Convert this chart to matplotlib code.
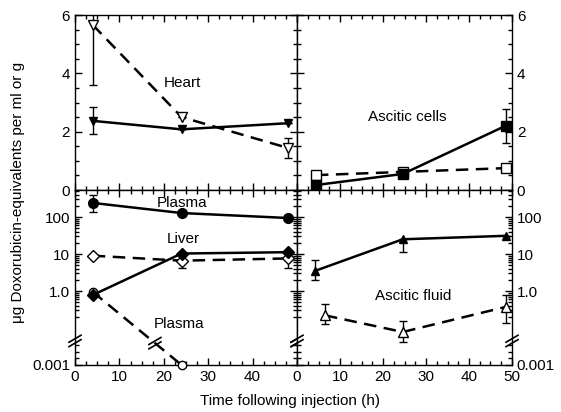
import numpy as np
import matplotlib
matplotlib.use('Agg')
from matplotlib import pyplot as plt
from matplotlib import transforms as mtransforms
from matplotlib.ticker import FixedLocator, FixedFormatter, MultipleLocator

plt.rc('font', family=['Liberation Sans', 'DejaVu Sans'])
plt.rc('font', size=11)

# ---- data (hours, ug doxorubicin-equivalents) ----
heart_t = [4, 24, 48]
heart_open = [5.66, 2.5, 1.44]
heart_open_err = [2.05, 0.0, 0.33]
heart_fill = [2.37, 2.08, 2.29]
heart_fill_err = [0.46, 0.0, 0.0]

cells_t = [4.4, 24.6, 48.5]
cells_open = [0.51, 0.62, 0.75]
cells_fill = [0.17, 0.55, 2.2]
cells_fill_err = [0.0, 0.0, 0.58]

plasma_t = [4, 24, 48]
plasma_fill = [240, 128, 94]
plasma_fill_lo = [104, 0, 0]
plasma_fill_hi = [160, 0, 0]
plasma_open_t = [4, 24]
plasma_open = [0.95, 0.001]

liver_t = [4, 24, 48]
liver_fill = [0.78, 10.3, 11.2]
liver_open = [9.0, 6.6, 7.6]
liver_open_lo = [0, 2.4, 3.4]
liver_open_hi = [0, 0, 0]

fluid_t = [4.2, 24.6, 48.5]
fluid_fill = [3.5, 25.0, 31.0]
fluid_fill_lo = [1.5, 13.5, 0]
fluid_fill_hi = [3.4, 0, 0]
fluid_open_t = [6.5, 24.6, 48.5]
fluid_open = [0.22, 0.078, 0.37]
fluid_open_lo = [0.09, 0.038, 0.23]
fluid_open_hi = [0.23, 0.077, 0.41]

log_ticks = [0.001, 1.0, 10, 100]
log_labels = ['0.001', '1.0', '10', '100']

# ---- broken log scale for the lower panels ----
B = -1.35   # break position (log units)
K = 0.394   # compression below the break


def fwd(v):
    lv = np.log10(np.clip(v, 1e-12, None))
    return np.where(lv >= B, lv, B + (lv - B) * K)


def inv(y):
    return np.where(y >= B, 10.0 ** y, 10.0 ** (B + (y - B) / K))


fig = plt.figure(figsize=(5.61, 4.12), dpi=100)
W, H = 561.0, 412.0
axTL = fig.add_axes([75 / W, 1 - 190 / H, 222 / W, 175 / H])
axTR = fig.add_axes([297 / W, 1 - 190 / H, 215 / W, 175 / H])
axBL = fig.add_axes([75 / W, 1 - 365 / H, 222 / W, 175 / H])
axBR = fig.add_axes([297 / W, 1 - 365 / H, 215 / W, 175 / H])

dash = (0, (5, 3))
lw = 1.8
ms = 6
ebk = dict(elinewidth=1, capsize=3, capthick=1, ecolor='black')

for ax in (axTL, axTR, axBL, axBR):
    ax.set_xlim(0, 50)
    ax.xaxis.set_major_locator(MultipleLocator(10))
    ax.xaxis.set_minor_locator(MultipleLocator(2.5))
    ax.tick_params(which='both', direction='in', top=True, bottom=True,
                   left=True, right=True, labelsize=11, width=1)
    ax.tick_params(which='major', length=5)
    ax.tick_params(which='minor', length=3)
    for s in ax.spines.values():
        s.set_linewidth(1)

# top panels, linear
for ax in (axTL, axTR):
    ax.set_ylim(0, 6)
    ax.yaxis.set_major_locator(MultipleLocator(2))
    ax.yaxis.set_minor_locator(MultipleLocator(0.5))
    ax.tick_params(labelbottom=False)
axTL.tick_params(labelleft=True, labelright=False)
axTR.tick_params(labelleft=False, labelright=True)

# bottom panels, broken log
minor_vals = [m * 10.0 ** d for d in range(-1, 3) for m in range(2, 10)]
minor_vals += [0.023, 0.0077, 0.003]
for ax in (axBL, axBR):
    ax.set_yscale('function', functions=(fwd, inv))
    ax.set_ylim(0.001, 10 ** 2.73)
    ax.yaxis.set_major_locator(FixedLocator(log_ticks))
    ax.yaxis.set_major_formatter(FixedFormatter(log_labels))
    ax.yaxis.set_minor_locator(FixedLocator(minor_vals))
axBL.tick_params(labelleft=True, labelright=False)
axBR.tick_params(labelleft=False, labelright=True)
axBL.set_xticks([0, 10, 20, 30, 40])
axBR.set_xticks([0, 10, 20, 30, 40, 50])
axBL.xaxis.set_minor_locator(MultipleLocator(2.5))

# ---- heart ----
axTL.errorbar(heart_t, heart_open, yerr=heart_open_err, fmt='v', color='black',
              mfc='white', ms=ms + 1, zorder=3, **ebk)
axTL.plot(heart_t, heart_open, linestyle=dash, color='black', lw=lw, zorder=2)
axTL.errorbar(heart_t, heart_fill, yerr=heart_fill_err, fmt='v-', color='black',
              ms=ms, lw=lw, zorder=4, **ebk)
axTL.text(24.3, 3.67, 'Heart', ha='center', va='center')

# ---- ascitic cells ----
axTR.plot(cells_t, cells_open, linestyle=dash, marker='s', color='black', mfc='white',
          ms=ms + 1, lw=lw, zorder=3)
axTR.errorbar(cells_t, cells_fill, yerr=cells_fill_err, fmt='s-', color='black',
              ms=ms + 1, lw=lw, zorder=4, **ebk)
axTR.text(25.6, 2.5, 'Ascitic cells', ha='center', va='center')

# ---- plasma / liver ----
axBL.errorbar(plasma_t, plasma_fill, yerr=[plasma_fill_lo, plasma_fill_hi], fmt='o-',
              color='black', ms=ms + 1, lw=lw, zorder=4, **ebk)
axBL.plot(plasma_open_t, plasma_open, linestyle=dash, marker='o', color='black',
          mfc='white', ms=ms, lw=lw, zorder=3, clip_on=False)
axBL.errorbar(liver_t, liver_open, yerr=[liver_open_lo, liver_open_hi], fmt='D',
              color='black', mfc='white', ms=ms, zorder=3, **ebk)
axBL.plot(liver_t, liver_open, linestyle=dash, color='black', lw=lw, zorder=2)
axBL.plot(liver_t, liver_fill, marker='D', linestyle='-', color='black', ms=ms, lw=lw,
          zorder=4)
axBL.text(24.1, 240, 'Plasma', ha='center', va='center')
axBL.text(24.3, 25.4, 'Liver', ha='center', va='center')
axBL.text(23.4, 0.13, 'Plasma', ha='center', va='center')

# ---- ascitic fluid ----
axBR.errorbar(fluid_t, fluid_fill, yerr=[fluid_fill_lo, fluid_fill_hi], fmt='^-',
              color='black', ms=ms, lw=lw, zorder=4, clip_on=False, **ebk)
axBR.errorbar(fluid_open_t, fluid_open, yerr=[fluid_open_lo, fluid_open_hi], fmt='^',
              color='black', mfc='white', ms=ms + 1, zorder=3, **ebk)
axBR.plot(fluid_open_t, fluid_open, linestyle=dash, color='black', lw=lw, zorder=2)
axBR.text(27, 0.73, 'Ascitic fluid', ha='center', va='center')


# ---- break marks ----
def slashes(ax, trans_base, x, y):
    t = fig.dpi_scale_trans + mtransforms.ScaledTranslation(x, y, trans_base)
    for off in (-0.022, 0.022):
        ax.plot([-0.06, 0.06], [off - 0.035, off + 0.035], color='black', lw=1.2,
                transform=t, clip_on=False, zorder=5)


yb = inv(np.array(B))
for ax in (axBL, axBR):
    slashes(ax, ax.get_yaxis_transform(), 0, yb)
    slashes(ax, ax.get_yaxis_transform(), 1, yb)
slashes(axBL, axBL.transData, 18, inv(np.array(-1.41)))

fig.text(18 / W, 1 - 192 / H, u'\u03bcg Doxorubicin-equivalents per ml or g',
         rotation=90, ha='center', va='center', fontsize=11)
fig.text(290 / W, 1 - 401 / H, 'Time following injection (h)', ha='center',
         va='center', fontsize=11)

fig.savefig('out.png', dpi=100)
